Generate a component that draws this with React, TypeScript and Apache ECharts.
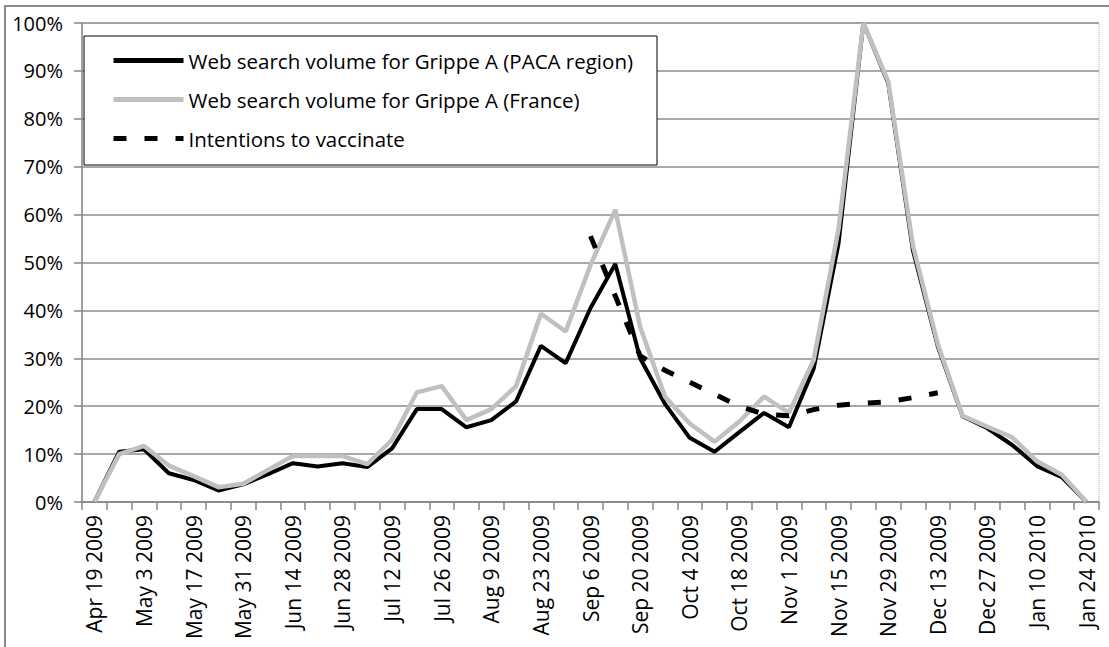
import React, { useEffect, useRef } from "react";
import * as echarts from "echarts";

const weeks: string[] = [
  "Apr 19 2009", "Apr 26 2009", "May 3 2009", "May 10 2009", "May 17 2009", "May 24 2009",
  "May 31 2009", "Jun 7 2009", "Jun 14 2009", "Jun 21 2009", "Jun 28 2009", "Jul 5 2009",
  "Jul 12 2009", "Jul 19 2009", "Jul 26 2009", "Aug 2 2009", "Aug 9 2009", "Aug 16 2009",
  "Aug 23 2009", "Aug 30 2009", "Sep 6 2009", "Sep 13 2009", "Sep 20 2009", "Sep 27 2009",
  "Oct 4 2009", "Oct 11 2009", "Oct 18 2009", "Oct 25 2009", "Nov 1 2009", "Nov 8 2009",
  "Nov 15 2009", "Nov 22 2009", "Nov 29 2009", "Dec 6 2009", "Dec 13 2009", "Dec 20 2009",
  "Dec 27 2009", "Jan 3 2010", "Jan 10 2010", "Jan 17 2010", "Jan 24 2010",
];

const pacaSearch: number[] = [
  0, 10.5, 11, 6, 4.6, 2.4, 3.7, 5.8, 8.1, 7.4, 8.1, 7.3, 11.2, 19.4, 19.4, 15.6, 17.1, 21,
  32.6, 29, 40.5, 49.7, 30, 20.5, 13.4, 10.5, 14.6, 18.6, 15.6, 27.9, 54, 100, 87.5, 52.5,
  32.5, 17.9, 15.4, 11.9, 7.5, 5.2, 0,
];

const franceSearch: number[] = [
  0, 10, 11.7, 7.6, 5.4, 3.1, 3.8, 6.7, 9.6, 9.6, 9.6, 7.9, 13, 22.9, 24.2, 17.1, 19.4, 24.2,
  39.3, 35.6, 49.5, 61, 36.6, 22, 16.4, 12.6, 16.8, 22, 18.6, 29.7, 57, 100, 87.8, 53.5, 33,
  18, 15.7, 13.5, 8.5, 5.7, 0,
];

const vaccinationIntentions: (number | null)[] = [
  null, null, null, null, null, null, null, null, null, null, null, null, null, null, null,
  null, null, null, null, null, 55.5, 43, 30.5, 27.5, 25, 22.5, 20, 18.3, 18, 19.3, 20.2, 20.6,
  20.9, 21.8, 22.8, null, null, null, null, null, null,
];

const seriesNames: string[] = [
  "Web search volume for Grippe A (PACA region)",
  "Web search volume for Grippe A (France)",
  "Intentions to vaccinate",
];

const FONT = "Open Sans";

export default function App() {
  const ref = useRef<HTMLDivElement>(null);
  useEffect(() => {
    if (!ref.current) return;
    const chart = echarts.init(ref.current, undefined, { renderer: "svg" });
    chart.setOption({
      animation: false,
      backgroundColor: "#ffffff",
      textStyle: { fontFamily: FONT },
      graphic: [
        {
          type: "rect",
          z: -1,
          shape: { x: 5, y: 6, width: 1300, height: 900 },
          style: { fill: "none", stroke: "#8a8a8a", lineWidth: 2 },
        },
      ],
      grid: {
        left: 82,
        right: 10,
        top: 23,
        bottom: 145,
        show: true,
        borderColor: "#a6a6a6",
        borderWidth: 1,
        borderType: "dotted",
      },
      legend: {
        orient: "vertical",
        left: 84,
        top: 36,
        data: seriesNames,
        itemWidth: 70,
        itemHeight: 20,
        itemGap: 18,
        padding: [14, 24, 16, 27],
        backgroundColor: "#ffffff",
        borderColor: "#000000",
        borderWidth: 1,
        borderRadius: 0,
        itemStyle: { opacity: 0, borderWidth: 0 },
        lineStyle: { width: 5 },
        textStyle: { fontFamily: FONT, fontSize: 20.5, color: "#000000", lineHeight: 20 },
      },
      xAxis: {
        type: "category",
        data: weeks,
        boundaryGap: true,
        axisLine: { show: true, lineStyle: { color: "#868686", width: 1.5 } },
        axisTick: { show: true, interval: 0, length: 8, lineStyle: { color: "#868686", width: 1.5 } },
        axisLabel: {
          interval: 1,
          rotate: 90,
          margin: 13,
          fontFamily: FONT,
          fontSize: 21,
          color: "#000000",
        },
        splitLine: { show: false },
      },
      yAxis: {
        type: "value",
        min: 0,
        max: 100,
        interval: 10,
        axisLine: { show: true, lineStyle: { color: "#868686", width: 1.5 } },
        axisTick: { show: true, length: 8, lineStyle: { color: "#868686", width: 1.5 } },
        axisLabel: {
          formatter: "{value}%",
          margin: 19,
          fontFamily: FONT,
          fontSize: 20,
          color: "#000000",
        },
        splitLine: { show: true, lineStyle: { color: "#8c8c8c", width: 1.5 } },
      },
      series: [
        {
          name: seriesNames[0],
          type: "line",
          data: pacaSearch,
          symbol: "none",
          lineStyle: { color: "#000000", width: 4 },
          itemStyle: { color: "#000000" },
        },
        {
          name: seriesNames[1],
          type: "line",
          data: franceSearch,
          symbol: "none",
          lineStyle: { color: "#c0c0c0", width: 4.5 },
          itemStyle: { color: "#c0c0c0" },
        },
        {
          name: seriesNames[2],
          type: "line",
          data: vaccinationIntentions,
          symbol: "none",
          connectNulls: false,
          lineStyle: { color: "#000000", width: 5, type: [13, 18] },
          itemStyle: { color: "#000000" },
        },
      ],
    });
    return () => chart.dispose();
  }, []);
  return (
    <div
      ref={ref}
      style={{ position: "fixed", left: 0, top: 0, width: 1109, height: 647 }}
    />
  );
}
